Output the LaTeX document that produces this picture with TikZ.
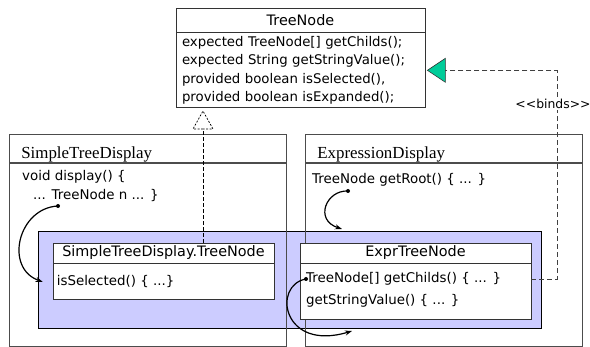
\documentclass[tikz,border=0pt]{standalone}
\usepackage{fontspec}
\setmainfont{Liberation Serif}
\newfontfamily\uifont{DejaVu Sans}
\usetikzlibrary{arrows.meta, positioning}

\definecolor{mixinblue}{RGB}{204,204,255}
\definecolor{bindgreen}{RGB}{0,204,153}

\begin{document}
\begin{tikzpicture}[
  x=1pt, y=-1pt,
  pkgtitle/.style={rectangle, draw=black!70, line width=0.6pt, anchor=north west,
                   minimum width=277pt, minimum height=28pt, inner xsep=12pt,
                   text width=253pt, text height=20pt, text depth=0pt, align=left,
                   font=\fontsize{16.9}{19}\selectfont},
  pkgbody/.style={rectangle, draw=black!70, line width=0.6pt,
                  minimum width=277pt, minimum height=183pt},
  clstitle/.style={rectangle, draw=black!80, fill=white, line width=0.8pt,
                   inner sep=0pt, font=\uifont\fontsize{14.4}{17}\selectfont},
  clsbody/.style={rectangle, draw=black!80, fill=white, line width=0.8pt},
  code/.style={inner sep=0pt, align=left, font=\uifont\fontsize{13.4}{19}\selectfont},
  mixin/.style={rectangle, draw=black, fill=mixinblue, line width=0.7pt, anchor=north west},
  ref/.style={-{Stealth[length=7pt, width=5pt]}, line width=1.2pt},
  realize/.style={dash pattern=on 4pt off 2pt, line width=0.7pt},
  bindline/.style={dash pattern=on 5pt off 3pt, line width=0.8pt, black!75},
  bindlbl/.style={fill=white, text=black, inner sep=1.5pt, font=\uifont\fontsize{12.4}{14}\selectfont}
]
\useasboundingbox (0,0) rectangle (590,347);

% --- mixin area shared by both displays ---
\node[mixin, minimum width=503pt, minimum height=97pt] (mix) at (38,231) {};

% --- outer classes ---
\node[pkgtitle] (std) at (9,134) {SimpleTreeDisplay};
\node[pkgbody, below=0pt of std] (stdbody) {};
\node[pkgtitle] (exd) at (305,134) {ExpressionDisplay};
\node[pkgbody, below=0pt of exd] (exdbody) {};

\node[code, anchor=west] (disp) at (22,186.5) {void display() \{\\\hspace*{11pt}... TreeNode n ... \}};
\coordinate (nref) at (58,206);

\node[code, anchor=west] (getroot) at (312,180) {TreeNode getRoot() \{ ... \}};
\coordinate (rref) at (348,191);

% --- inner classes ---
\node[clstitle, minimum width=221pt, minimum height=20pt] (stn) at (163.5,253) {SimpleTreeDisplay.TreeNode};
\node[clsbody, below=0pt of stn, minimum width=221pt, minimum height=36pt] (stnbody) {};
\node[code, right=4pt of stnbody.west] (issel) {isSelected() \{ ...\}};

\node[clstitle, minimum width=231pt, minimum height=20pt] (etn) at (415.5,253) {ExprTreeNode};
\node[clsbody, below=0pt of etn, minimum width=231pt, minimum height=56pt] (etnbody) {};
\node[code, anchor=west] (childs) at (306,279) {TreeNode[] getChilds() \{ ... \}};
\node[code, anchor=west] (strval) at (306,301) {getStringValue() \{ ... \}};

% --- the interface ---
\node[clstitle, minimum width=249pt, minimum height=24pt] (tn) at (300.5,20) {TreeNode};
\node[clsbody, below=0pt of tn, minimum width=249pt, minimum height=75pt,
      inner xsep=6pt, text width=237pt, align=left,
      font=\uifont\fontsize{13.3}{18.3}\selectfont] (tnbody)
      {expected TreeNode[] getChilds();\\expected String getStringValue();\\provided boolean isSelected(),\\provided boolean isExpanded();};

% realization, open triangle
\coordinate (rbase) at (203,129);
\draw[realize] (stn.north -| rbase) -- (rbase);
\draw[realize, dash pattern=on 2pt off 1.5pt, fill=white] (rbase) -- ++(-10,0) -- ++(10,-18) -- ++(10,18) -- cycle;

% binding, filled triangle
\coordinate (gbase) at ([xshift=20pt]tnbody.east);
\draw[fill=bindgreen, draw=black!80, line width=0.6pt] ([xshift=2pt]tnbody.east) -- ++(18,-12) -- ++(0,24) -- cycle;
\draw[bindline] (childs -| etnbody.east) -| node[bindlbl, pos=0.92, xshift=-4pt] {<\kern0pt<binds>\kern0pt>} (557,0 |- gbase) -- (gbase);

% references
\coordinate (rin) at (342,229);
\coordinate (vin) at (352,331);
\draw[ref] (nref) .. controls (18,208) and (4,268) .. ([xshift=-10pt]stnbody.west);
\draw[ref] (rref) .. controls (326,190) and (314,220) .. (rin);
\draw[ref] (childs.west) .. controls (272,285) and (282,352) .. (vin);
\fill (nref) circle (2pt);
\fill (rref) circle (2pt);
\fill (childs.west) circle (2pt);

\end{tikzpicture}
\end{document}
